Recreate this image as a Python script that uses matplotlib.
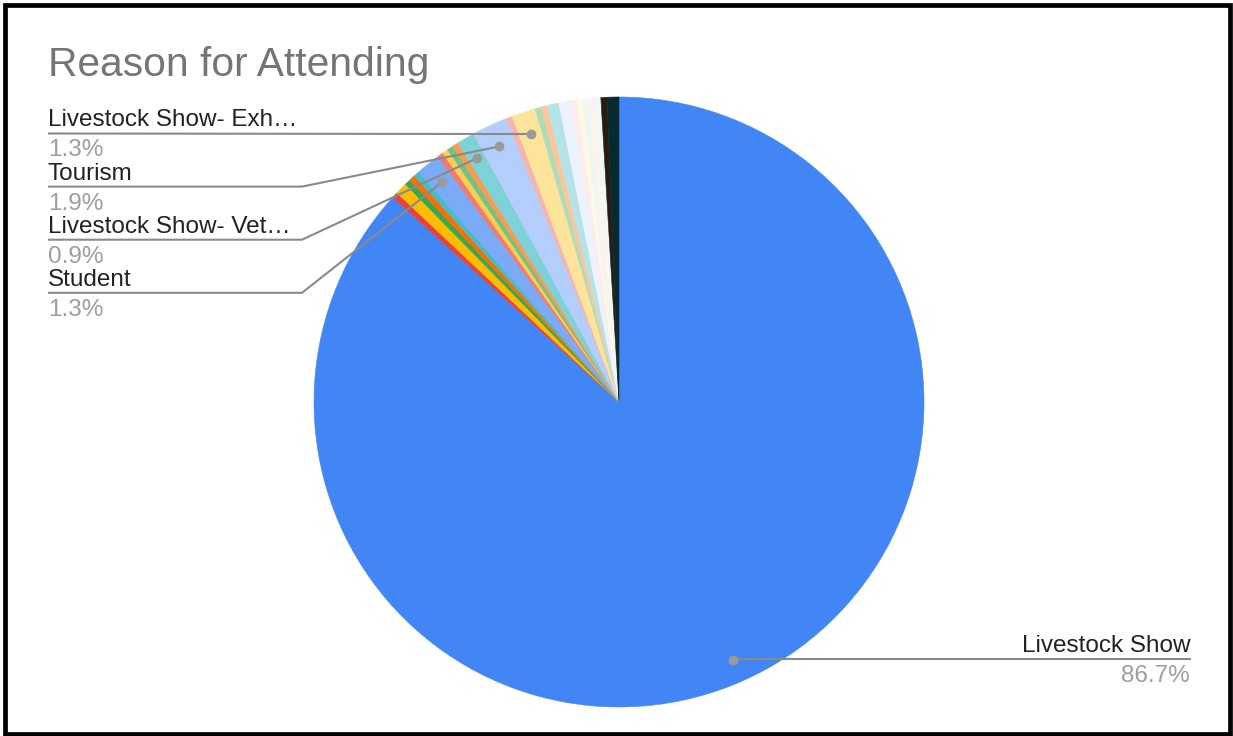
import numpy as np
import matplotlib.pyplot as plt
from matplotlib.patches import Rectangle

plt.rcParams['font.family'] = ['Liberation Sans', 'DejaVu Sans']

# data (counts, 316 responses), in slice order clockwise from 12 o'clock
labels = ["Livestock Show", "", "", "", "", "", "Student", "", "", "", "",
          "Livestock Show- Vet\u2026", "Tourism", "", "Livestock Show- Exh\u2026",
          "", "", "", "", "", "", "", "", "", "", ""]
counts = [274, 1, 2, 1, 1, 1, 4, 1, 1, 1, 1, 3, 6, 1, 4,
          1, 1, 2, 2, 1, 1, 1, 1, 1, 1, 2]
colors = ['#4285F4', '#EA4335', '#FBBC04', '#34A853', '#FF6D01', '#46BDC6',
          '#7BAAF7', '#F07B72', '#FCD04F', '#71C287', '#FF994D', '#7ED1D7',
          '#B3CEFB', '#F7B4AE', '#FDE49B', '#AEDCBA', '#FFC599', '#B5E3E7',
          '#ECF3FE', '#FDECEB', '#FEF8E6', '#EEF7F1', '#FFF3EB', '#EDF8F9',
          '#2B1B0F', '#062A2E']
# which slices get a callout, left side top to bottom
left_labels = ["Livestock Show- Exh\u2026", "Tourism", "Livestock Show- Vet\u2026", "Student"]

W, H = 1233, 736
CX, CY, R = 619, 402, 305   # pie centre / radius in pixels

fig = plt.figure(figsize=(W / 100, H / 100), dpi=100)
ax = fig.add_axes([(CX - R) / W, (H - CY - R) / H, 2 * R / W, 2 * R / H])

wedges, _ = ax.pie(counts, colors=colors, startangle=90, counterclock=False,
                   radius=1)
for w in wedges:
    w.set_edgecolor(w.get_facecolor())
    w.set_linewidth(0.4)

# pie() resets the limits, so set them afterwards
ax.set_xlim(-1, 1)
ax.set_ylim(-1, 1)
ax.set_aspect('equal')
ax.axis('off')

total = sum(counts)


def px(x, y):
    # pixel (from top-left) -> pie data coords
    return (x - CX) / R, (CY - y) / R


def dot_of(i):
    w = wedges[i]
    a = np.radians((w.theta1 + w.theta2) / 2)
    return 0.925 * np.cos(a), 0.925 * np.sin(a)


line_c = '#8a8a8a'
name_c = '#222222'
pct_c = '#9e9e9e'
fs = 17.5

# left callouts
for k, name in enumerate(left_labels):
    i = labels.index(name)
    ly = 133.5 + 53.1 * k
    dx, dy = dot_of(i)
    x0, y0 = px(48, ly)
    xe, ye = px(302, ly)
    if k == 0:
        xs, ys = [x0, dx], [y0, dy]
    else:
        xs, ys = [x0, xe, dx], [y0, ye, dy]
    ax.plot(xs, ys, color=line_c, lw=1.5, clip_on=False, solid_capstyle='butt')
    ax.plot(dx, dy, 'o', ms=6, color='#9a9a9a', clip_on=False)
    tx, ty = px(48, ly - 7)
    ax.text(tx, ty, name, fontsize=fs, color=name_c, ha='left', va='baseline')
    tx, ty = px(48, ly + 23)
    ax.text(tx, ty, f"{counts[i] / total * 100:.1f}%", fontsize=fs,
            color=pct_c, ha='left', va='baseline')

# right callout for the big slice
i = 0
dx, dy = dot_of(i)
ly = 659
x1, y1 = px(1190, ly)
ax.plot([dx, x1], [y1, y1], color=line_c, lw=1.5, clip_on=False)
ax.plot(dx, dy, 'o', ms=6, color='#9a9a9a', clip_on=False)
tx, ty = px(1190, ly - 7)
ax.text(tx, ty, labels[i], fontsize=fs, color=name_c, ha='right', va='baseline')
tx, ty = px(1190, ly + 23)
ax.text(tx, ty, f"{counts[i] / total * 100:.1f}%", fontsize=fs,
        color=pct_c, ha='right', va='baseline')

fig.text(48 / W, 1 - 76 / H, "Reason for Attending", fontsize=29.3,
         color='#757575', ha='left', va='baseline')

# black frame
fig.patches.append(Rectangle((5 / W, 2.5 / H), 1224.5 / W, 728.5 / H,
                             transform=fig.transFigure, fill=False,
                             edgecolor='black', lw=3.4))

fig.savefig('out.png', dpi=100)
